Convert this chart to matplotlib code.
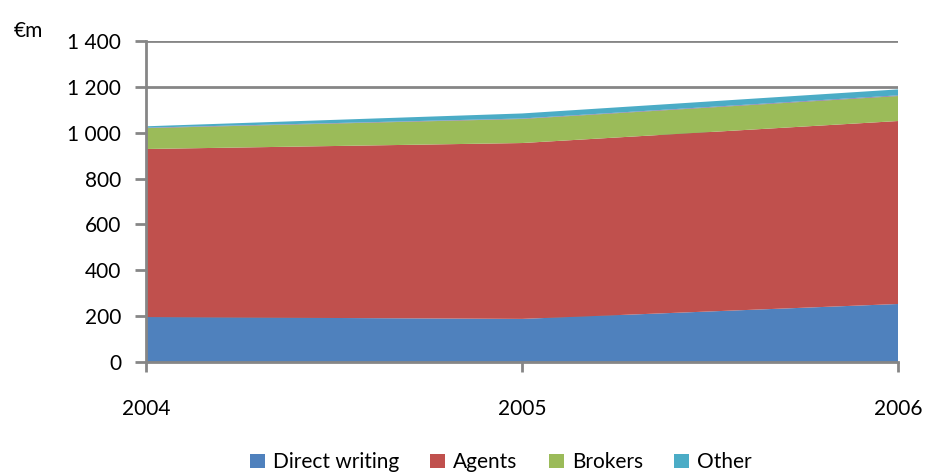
import matplotlib
matplotlib.use("Agg")
import matplotlib.pyplot as plt
from matplotlib.patches import Patch
from matplotlib.ticker import FuncFormatter

years = [2004, 2005, 2006]
direct_writing = [196, 188, 253]
agents = [733, 767, 798]
brokers = [91, 105, 109]
unlabelled = [2, 2, 3]
other = [6, 22, 26]

series_names = ["Direct writing", "Agents", "Brokers", "", "Other"]
colors = ["#4F81BD", "#C0504D", "#9BBB59", "#8064A2", "#4BACC6"]
yticks = [0, 200, 400, 600, 800, 1000, 1200, 1400]

plt.rcParams['font.family'] = ['Lato', 'DejaVu Sans']

fig = plt.figure(figsize=(9.26, 4.74), dpi=100)
ax = fig.add_axes([0.1577, 0.2363, 0.9698 - 0.1577, 0.9135 - 0.2363])

ax.stackplot(years, direct_writing, agents, brokers, unlabelled, other,
             colors=colors, linewidth=0, zorder=2)

ax.set_xlim(2004, 2006)
ax.set_ylim(0, 1400)
ax.set_yticks(yticks)
ax.yaxis.set_major_formatter(FuncFormatter(lambda v, p: f"{int(v):,}".replace(",", " ")))
ax.set_xticks(years)
ax.set_xticklabels([str(y) for y in years])

ax.grid(axis='y', color='#868686', linewidth=2, zorder=0)
ax.set_axisbelow(True)
for s in ['top', 'right']:
    ax.spines[s].set_visible(False)
for s in ['left', 'bottom']:
    ax.spines[s].set_color('#868686')
    ax.spines[s].set_linewidth(2)
    ax.spines[s].set_zorder(3)
ax.tick_params(axis='y', colors='#868686', labelcolor='black', length=8, width=2,
               labelsize=15, pad=10)
ax.tick_params(axis='x', colors='#868686', labelcolor='black', length=7, width=2,
               labelsize=15, pad=20)

fig.text(0.015, 0.935, "€m", fontsize=15, ha='left', va='center')

handles = [Patch(facecolor=colors[i], edgecolor='none', label=series_names[i])
           for i in [0, 1, 2, 4]]
fig.legend(handles=handles, loc='center', bbox_to_anchor=(0.541, 0.025), ncol=4,
           frameon=False, fontsize=15, handlelength=0.7, handleheight=0.7,
           handletextpad=0.4, columnspacing=1.5, borderaxespad=0)

fig.savefig("out.png", dpi=100)
